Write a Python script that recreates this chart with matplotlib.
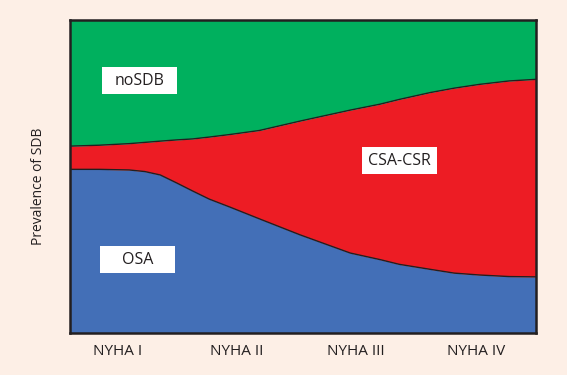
import matplotlib
matplotlib.use("Agg")
import matplotlib.pyplot as plt
from matplotlib.patches import Rectangle

# Data (stacked prevalence, % of axis height) sampled along NYHA class axis
x = [0.6, 0.85, 1.1, 1.23, 1.36, 1.5, 1.63, 1.77, 1.94, 2.19, 2.53, 2.95, 3.2,
     3.36, 3.62, 3.82, 4.03, 4.28, 4.5]
osa = [52.2, 52.2, 52.0, 51.5, 50.4, 47.8, 45.3, 42.7, 40.2, 36.4, 31.3, 25.5, 23.4,
       21.9, 20.3, 19.1, 18.5, 18.0, 17.9]
csa_csr = [7.4, 7.7, 8.4, 9.3, 10.8, 13.8, 16.6, 19.8, 23.1, 28.2, 36.3, 45.6, 49.6,
           52.6, 56.4, 59.0, 60.8, 62.4, 63.0]
nosdb = [40.4, 40.1, 39.6, 39.2, 38.8, 38.4, 38.1, 37.5, 36.7, 35.4, 32.4, 28.9, 27.0,
         25.5, 23.3, 21.9, 20.7, 19.6, 19.1]
tick_pos = [1, 2, 3, 4]
tick_labels = ["NYHA I", "NYHA II", "NYHA III", "NYHA IV"]
series_names = ["OSA", "CSA-CSR", "noSDB"]

bg = "#fdefe6"
colors = ["#436fb7", "#ed1c24", "#00b05e"]
dark = "#231f20"

plt.rcParams['font.family'] = ['Open Sans', 'DejaVu Sans']

W, H = 567, 375
fig = plt.figure(figsize=(W / 100, H / 100), dpi=100, facecolor=bg)
ax = fig.add_axes([69.5 / W, 1 - 333 / H, 466 / W, 313.5 / H])
ax.set_facecolor(bg)

top1 = osa
top2 = [a + b for a, b in zip(osa, csa_csr)]
top3 = [a + b for a, b in zip(top2, nosdb)]
ax.fill_between(x, 0, top1, color=colors[0], lw=0)
ax.fill_between(x, top1, top2, color=colors[1], lw=0)
ax.fill_between(x, top2, top3, color=colors[2], lw=0)
ax.plot(x, top1, color=dark, lw=1.0, solid_joinstyle="round")
ax.plot(x, top2, color=dark, lw=1.0, solid_joinstyle="round")

ax.set_xlim(0.6, 4.5)
ax.set_ylim(0, 100)

# label boxes
box_w, box_h = 0.628, 8.6
label_pos = {"noSDB": (1.188, 80.4), "CSA-CSR": (3.364, 54.9), "OSA": (1.167, 23.3)}
for name in series_names:
    cx, cy = label_pos[name]
    ax.add_patch(Rectangle((cx - box_w / 2, cy - box_h / 2), box_w, box_h,
                           facecolor="white", edgecolor="none", zorder=3))
    ax.text(cx, cy, name, ha="center", va="center", fontsize=11.5,
            color=dark, zorder=4)

ax.set_xticks(tick_pos)
ax.set_xticklabels(tick_labels, fontsize=11, color=dark)
ax.tick_params(axis="x", length=0, pad=8)
ax.set_yticks([])
fig.text(38 / W, 1 - 186 / H, "Prevalence of SDB", rotation=90, fontsize=10,
         color=dark, ha="center", va="center")
for s in ax.spines.values():
    s.set_color(dark)
    s.set_linewidth(1.8)

fig.savefig("out.png", dpi=100, facecolor=bg)
